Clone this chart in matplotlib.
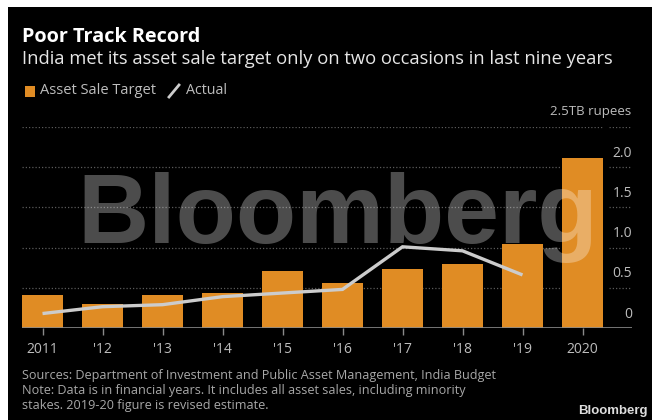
import matplotlib
matplotlib.use('Agg')
import matplotlib.pyplot as plt
from matplotlib.patches import Rectangle
from matplotlib.lines import Line2D

# Data #
years = ['2011', "'12", "'13", "'14", "'15", "'16", "'17", "'18", "'19", '2020']
target = [0.41, 0.30, 0.41, 0.44, 0.71, 0.56, 0.73, 0.80, 1.05, 2.11]
actual = [0.18, 0.265, 0.29, 0.39, 0.435, 0.48, 1.01, 0.96, 0.66]
y_ticks = [0, 0.5, 1.0, 1.5, 2.0]
y_tick_labels = ['0', '0.5', '1.0', '1.5', '2.0']

# Style #
W, H = 652, 420
orange = '#e08c24'
line_grey = '#cccccc'
txt_grey = '#bdbdbd'
plt.rcParams['font.family'] = ['Open Sans', 'DejaVu Sans']

def fx(x): return x / W
def fy(y): return 1 - y / H

fig = plt.figure(figsize=(W / 100, H / 100), dpi=100, facecolor='white')
# Black panel with thin white border on left and top #
fig.patches.append(Rectangle((fx(8), 0), 1, fy(7), transform=fig.transFigure,
                             facecolor='black', edgecolor='none', zorder=-10))

ax = fig.add_axes([fx(22), fy(328), fx(632) - fx(22), fy(127) - fy(328)])
ax.set_facecolor('none')
ax.set_xlim(-0.342, 9.825)
ax.set_ylim(0, 2.5)
for s in ax.spines.values(): s.set_visible(False)

# Grid lines in two pieces (gap before the label column) #
for y in y_ticks[1:] + [2.5]:
    ax.axhline(y, xmin=0, xmax=0.952, color='#5a5a5a', lw=0.9, ls=(0, (1, 1.6)), zorder=1)
    ax.axhline(y, xmin=0.962, xmax=1, color='#5a5a5a', lw=0.9, ls=(0, (1, 1.6)), zorder=1)
ax.axhline(0, color='#8a8a8a', lw=1.2, zorder=4)

x = range(len(years))
ax.bar(x, target, width=0.68, color=orange, zorder=2)
ax.plot(range(len(actual)), actual, color=line_grey, lw=2.4, zorder=3,
        solid_capstyle='butt', solid_joinstyle='miter')

# X axis #
ax.set_xticks(list(x))
ax.set_xticklabels(years, fontsize=10, color=txt_grey)
ax.tick_params(axis='x', length=5, width=1, color='#8a8a8a', pad=5)
ax.set_yticks([])

# Y labels sit above their grid lines #
for v, lab in zip(y_ticks, y_tick_labels):
    ax.annotate(lab, xy=(1, v), xycoords=('axes fraction', 'data'),
                xytext=(0, 10), textcoords='offset points',
                ha='right', va='center', fontsize=10, color=txt_grey)

# Titles and legend #
fig.text(fx(22), fy(37), 'Poor Track Record', fontsize=14.3, fontweight='bold',
         color='white', va='center', ha='left')
fig.text(fx(22), fy(59), 'India met its asset sale target only on two occasions in last nine years',
         fontsize=13.2, color='#e6e6e6', va='center', ha='left')
fig.patches.append(Rectangle((fx(25), fy(96.5)), fx(10), fy(86) - fy(96.5),
                             transform=fig.transFigure, facecolor=orange, edgecolor='none'))
fig.text(fx(40), fy(91), 'Asset Sale Target', fontsize=10.5, color=txt_grey, va='center', ha='left')
fig.lines.append(Line2D([fx(169), fx(179)], [fy(97), fy(85)], transform=fig.transFigure,
                        color=line_grey, lw=2))
fig.text(fx(186), fy(91), 'Actual', fontsize=10.3, color=txt_grey, va='center', ha='left')
fig.text(fx(631), fy(112), '2.5TB rupees', fontsize=9.5, color=txt_grey, va='center', ha='right')

# Footer #
foot = ['Sources: Department of Investment and Public Asset Management, India Budget',
        'Note: Data is in financial years. It includes all asset sales, including minority',
        'stakes. 2019-20 figure is revised estimate.']
for i, t in enumerate(foot):
    fig.text(fx(22), fy(375 + 15.5 * i), t, fontsize=9.1, color='#a8a8a8', va='center', ha='left')
fig.text(fx(648), fy(411), 'Bloomberg', fontsize=9.5, fontweight='bold', color='#dddddd',
         family='Liberation Sans', va='center', ha='right')

# Watermark #
fig.text(fx(77), fy(243), 'Bloomberg', fontsize=71, fontweight='bold', color='white',
         alpha=0.3, family='Liberation Sans', va='baseline', ha='left', zorder=10)

fig.savefig('out.png', dpi=100, facecolor='white')
